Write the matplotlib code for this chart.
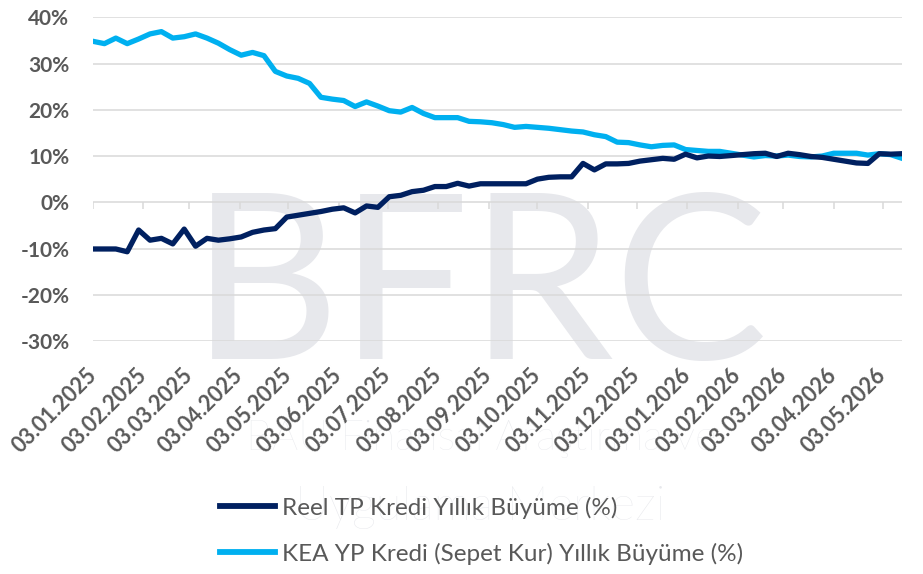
import matplotlib
matplotlib.use("Agg")
import matplotlib.pyplot as plt
import matplotlib.dates as mdates
import pandas as pd

# weekly observations, first one on 03.01.2025
start_date = "2025-01-03"
n_weeks = 72

reel_tp = [
    -10.1, -10.1, -10.1, -10.7, -6.0, -8.2, -7.8, -9.0, -5.8, -9.5,
    -7.8, -8.2, -7.9, -7.5, -6.5, -6.0, -5.7, -3.2, -2.8, -2.4,
    -2.0, -1.5, -1.2, -2.3, -0.8, -1.1, 1.2, 1.5, 2.3, 2.6,
    3.4, 3.4, 4.1, 3.5, 4.0, 4.0, 4.0, 4.0, 4.0, 5.0,
    5.4, 5.5, 5.5, 8.4, 7.0, 8.3, 8.3, 8.4, 8.9, 9.2,
    9.5, 9.3, 10.4, 9.6, 10.0, 9.9, 10.1, 10.3, 10.5, 10.6,
    9.9, 10.6, 10.3, 9.9, 9.7, 9.3, 8.9, 8.5, 8.4, 10.5,
    10.4, 10.5,
]
kea_yp = [
    34.8, 34.3, 35.5, 34.3, 35.3, 36.4, 36.9, 35.5, 35.8, 36.4,
    35.5, 34.4, 33.0, 31.8, 32.4, 31.7, 28.3, 27.3, 26.8, 25.7,
    22.7, 22.3, 22.0, 20.7, 21.7, 20.8, 19.8, 19.5, 20.5, 19.2,
    18.3, 18.3, 18.3, 17.5, 17.4, 17.2, 16.8, 16.2, 16.4, 16.2,
    16.0, 15.7, 15.4, 15.2, 14.6, 14.2, 13.0, 12.9, 12.4, 12.0,
    12.3, 12.4, 11.4, 11.2, 11.0, 11.0, 10.6, 10.2, 9.8, 10.1,
    10.0, 10.2, 9.9, 9.8, 10.0, 10.6, 10.6, 10.6, 10.2, 10.5,
    10.3, 9.5,
]
series_labels = [
    "Reel TP Kredi Yıllık Büyüme (%)",
    "KEA YP Kredi (Sepet Kur) Yıllık Büyüme (%)",
]
y_ticks = [-30, -20, -10, 0, 10, 20, 30, 40]

dates = pd.date_range(start_date, periods=n_weeks, freq="7D")
month_ticks = pd.date_range("2025-01-01", "2026-05-01", freq="MS") + pd.Timedelta(days=2)

plt.rcParams["font.family"] = ["Lato", "DejaVu Sans"]

dark = "#002060"
light = "#00B0F0"
grid_c = "#d9d9d9"
txt_c = "#595959"
wm_c = "#e7e8ec"

fig = plt.figure(figsize=(9.23, 5.74), dpi=100)
ax = fig.add_axes([0.1008, 0.4059, 0.8765, 0.5640])
ax.patch.set_alpha(0)

# faint watermark behind the chart
fig.text(0.52, 0.3746, "BFRC", fontsize=166, color=wm_c,
         ha="center", va="baseline", zorder=-5)
fig.text(0.521, 0.216, "BAU Finansal Araştırma ve", fontsize=30, weight="light",
         color=wm_c, ha="center", va="baseline", zorder=-5)
fig.text(0.52, 0.094, "Uygulama Merkezi", fontsize=34, weight="light",
         color=wm_c, ha="center", va="baseline", zorder=-5)

ax.plot(dates, reel_tp, color=dark, lw=3.8, label=series_labels[0],
        solid_joinstyle="round", zorder=4)
ax.plot(dates, kea_yp, color=light, lw=3.8, label=series_labels[1],
        solid_joinstyle="round", zorder=3)

ax.set_ylim(-30, 40)
ax.set_xlim(dates[0], dates[-1])
ax.set_yticks(y_ticks)
ax.set_yticklabels([f"{v}%" for v in y_ticks])
ax.yaxis.grid(True, color=grid_c, lw=1.1)
ax.set_axisbelow(True)
for s in ax.spines.values():
    s.set_visible(False)

# category axis crosses at 0 with small outward tick marks
ax.vlines(month_ticks, -1.5, 0, color=grid_c, lw=1.1, zorder=1)

ax.set_xticks(month_ticks)
ax.xaxis.set_major_formatter(mdates.DateFormatter("%d.%m.%Y"))
ax.tick_params(axis="x", length=0, pad=22, labelsize=15.5, labelcolor=txt_c)
ax.tick_params(axis="y", length=0, pad=17, labelsize=15, labelcolor=txt_c)
for lbl in ax.get_xticklabels():
    lbl.set_rotation(45)
    lbl.set_ha("right")
    lbl.set_va("center")
    lbl.set_rotation_mode("anchor")
    lbl.set_fontweight("bold")
for lbl in ax.get_yticklabels():
    lbl.set_fontweight("bold")

leg = fig.legend(loc="center left", bbox_to_anchor=(220 / 923, (574 - 530.5) / 574),
                 frameon=False, fontsize=17.5, handlelength=2.26, handletextpad=0.3,
                 labelspacing=0.98, borderpad=0, borderaxespad=0)
for t in leg.get_texts():
    t.set_color(txt_c)
for h in leg.get_lines():
    h.set_linewidth(4.2)

fig.savefig("out.png", dpi=100)
